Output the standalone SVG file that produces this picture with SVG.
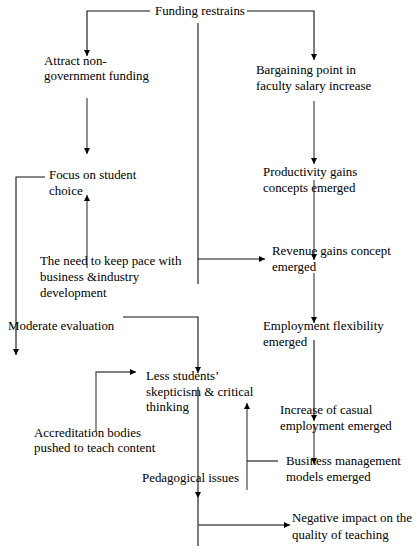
<svg xmlns="http://www.w3.org/2000/svg" width="418" height="552" viewBox="0 0 418 552">
<defs>
<marker id="ah" viewBox="0 0 10 10" refX="10" refY="5" markerWidth="6" markerHeight="6" markerUnits="userSpaceOnUse" orient="auto">
<path d="M0,0 L10,5 L0,10 z" fill="#000"/>
</marker>
<style>
text{font-family:'Liberation Serif','Times New Roman',serif;font-size:12.9px;fill:#000;}
.c{fill:none;stroke:#111;stroke-width:1.1;}
.g{fill:none;stroke:#555;stroke-width:1.3;}
.a{marker-end:url(#ah);}
</style>
</defs>
<rect width="418" height="552" fill="#fff"/>
<g id="connectors">
<path class="c a" d="M150,11 H87 V56"/>
<path class="c a" d="M247,11 H314 V60"/>
<path class="c" d="M198,23 V284"/>
<path class="c a" d="M198,259 H265"/>
<path class="g a" d="M87,98 V154"/>
<path class="g a" d="M314,101 V164"/>
<path class="g a" d="M87,268 V195"/>
<path class="c a" d="M45,177 H16 V355"/>
<path class="g a" d="M314,180 V260"/>
<path class="g a" d="M314,273 V323"/>
<path class="c a" d="M123,317 H198 V373"/>
<path class="c a" d="M314,340 V421"/>
<path class="g a" d="M96,432 V372 H136"/>
<path class="c a" d="M198,387 V498"/>
<path class="c" d="M198,498 V546"/>
<path class="g a" d="M198,525 H290"/>
<path class="g a" d="M247,490 V403"/>
<path class="c" d="M247,461 H278"/>
<path class="g a" d="M314,424 V464"/>
</g>
<g font-family="Liberation Serif, serif">
<g id="n1"><text x="155" y="15">Funding restrains</text></g>
<g id="n2"><text x="44" y="65">Attract non-</text><text x="44" y="80">government funding</text></g>
<g id="n3"><text x="256" y="74">Bargaining point in</text><text x="256" y="90">faculty salary increase</text></g>
<g id="n4"><text x="49" y="179">Focus on student</text><text x="49" y="195">choice</text></g>
<g id="n5"><text x="263" y="176">Productivity gains</text><text x="263" y="192">concepts emerged</text></g>
<g id="n6"><text x="40" y="265">The need to keep pace with</text><text x="40" y="281">business &amp;industry</text><text x="40" y="297">development</text></g>
<g id="n7"><text x="272" y="255">Revenue gains concept</text><text x="272" y="271">emerged</text></g>
<g id="n8"><text x="8" y="330">Moderate evaluation</text></g>
<g id="n9"><text x="263" y="330">Employment flexibility</text><text x="263" y="346">emerged</text></g>
<g id="n10"><text x="146" y="380">Less students’</text><text x="146" y="396">skepticism &amp; critical</text><text x="146" y="411">thinking</text></g>
<g id="n11"><text x="280" y="414">Increase of casual</text><text x="280" y="430">employment emerged</text></g>
<g id="n12"><text x="34" y="437">Accreditation bodies</text><text x="34" y="452">pushed to teach content</text></g>
<g id="n13"><text x="286" y="465">Business management</text><text x="286" y="481">models emerged</text></g>
<g id="n14"><text x="142" y="482">Pedagogical issues</text></g>
<g id="n15"><text x="292" y="522">Negative impact on the</text><text x="292" y="539">quality of teaching</text></g>
</g>
</svg>
